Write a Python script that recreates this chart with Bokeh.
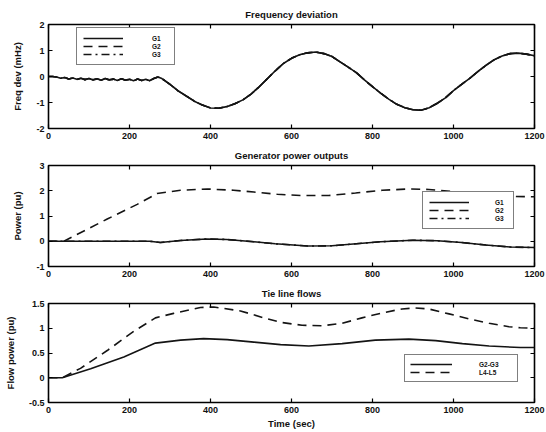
from bokeh.plotting import figure
from bokeh.layouts import column
from bokeh.models import (Range1d, LinearAxis, FixedTicker, Legend, LegendItem,
                          CustomJSTickFormatter)
from bokeh.embed import file_html
from bokeh.resources import INLINE

# ---------------- data ----------------
x_ticks = [0, 200, 400, 600, 800, 1000, 1200]
x_tick_labels = ["0", "200", "400", "600", "800", "1000", "1200"]

# Panel 1: frequency deviation (mHz) - G1, G2, G3 coincide
freq_t = [0, 10, 20, 30, 40, 50, 60, 70, 80, 90, 100, 110, 120, 130, 140, 150,
          160, 170, 180, 190, 200, 210, 220, 230, 240, 250, 260, 270, 280,
          300, 320, 340, 360, 380, 400, 420, 440, 460, 480, 500, 520, 540, 560,
          580, 600, 620, 640, 660, 680, 700, 720, 740, 760, 780, 800, 820, 840,
          860, 880, 900, 920, 940, 960, 980, 1000, 1020, 1040, 1060, 1080, 1100,
          1120, 1140, 1160, 1180, 1200]
freq_g1 = [0.0, 0.0, -0.02, -0.07, -0.04, -0.10, -0.06, -0.11, -0.07, -0.12, -0.08,
           -0.13, -0.09, -0.14, -0.08, -0.13, -0.10, -0.15, -0.09, -0.14, -0.11,
           -0.16, -0.10, -0.15, -0.11, -0.16, -0.08, -0.02, -0.08,
           -0.30, -0.55, -0.75, -0.95, -1.10, -1.21, -1.22, -1.16, -1.05, -0.90,
           -0.68, -0.40, -0.09, 0.22, 0.50, 0.70, 0.84, 0.91, 0.94, 0.88, 0.77,
           0.56, 0.36, 0.15, -0.13, -0.39, -0.64, -0.87, -1.07, -1.20, -1.28,
           -1.30, -1.20, -1.03, -0.82, -0.54, -0.30, -0.07, 0.19, 0.43, 0.64,
           0.79, 0.88, 0.90, 0.86, 0.80]
freq_g2 = list(freq_g1)
freq_g3 = list(freq_g1)
freq_y_ticks = [-2, -1, 0, 1, 2]
freq_y_labels = ["-2", "-1", "0", "1", "2"]

# Panel 2: generator power outputs (pu)
pow_g1_t = [0, 250, 276, 326, 390, 440, 500, 560, 640, 700, 760, 820, 900, 960,
            1020, 1080, 1140, 1200]
pow_g1 = [0.0, 0.0, -0.05, 0.03, 0.09, 0.07, -0.01, -0.10, -0.19, -0.18, -0.10,
          -0.02, 0.04, 0.02, -0.05, -0.15, -0.23, -0.25]
pow_g2_t = [0, 38, 100, 145, 219, 268, 326, 392, 457, 507, 565, 626, 692, 758,
            824, 890, 939, 1005, 1071, 1137, 1200]
pow_g2 = [0.0, 0.0, 0.51, 0.88, 1.46, 1.89, 2.02, 2.07, 2.02, 1.95, 1.86, 1.81,
          1.81, 1.91, 2.02, 2.07, 2.05, 1.96, 1.86, 1.78, 1.76]
pow_g3_t = list(pow_g1_t)
pow_g3 = list(pow_g1)
pow_y_ticks = [-1, 0, 1, 2, 3]
pow_y_labels = ["-1", "0", "1", "2", "3"]

# Panel 3: tie line flows (pu)
flow_a_t = [0, 34, 104, 186, 264, 326, 383, 441, 507, 573, 643, 725, 807, 890,
            956, 1022, 1088, 1165, 1200]
flow_a = [0.0, 0.0, 0.18, 0.42, 0.70, 0.76, 0.79, 0.77, 0.72, 0.67, 0.64, 0.69,
          0.76, 0.78, 0.75, 0.69, 0.64, 0.61, 0.61]
flow_b_t = [0, 34, 79, 145, 211, 264, 309, 375, 408, 474, 540, 573, 626, 675,
            725, 774, 824, 873, 906, 939, 989, 1038, 1088, 1137, 1165, 1200]
flow_b = [0.0, 0.0, 0.19, 0.55, 0.94, 1.21, 1.30, 1.42, 1.43, 1.35, 1.19, 1.12,
          1.06, 1.05, 1.10, 1.21, 1.31, 1.39, 1.41, 1.39, 1.29, 1.19, 1.10, 1.03,
          1.01, 1.00]
flow_y_ticks = [-0.5, 0, 0.5, 1, 1.5]
flow_y_labels = ["-0.5", "0", "0.5", "1", "1.5"]

# ---------------- styling ----------------
FONT = "Liberation Sans"
INK = "#141414"
LW = 1.6
DASH = "9 6"
DASHDOT = "8 4 2 4"


def make_panel(height, top, bottom, yr, yticks, ylabels, title, ylabel, xlabel):
    p = figure(width=546, height=height, output_backend="svg", toolbar_location=None,
               x_range=Range1d(0, 1200), y_range=Range1d(*yr),
               min_border_left=48, min_border_right=12,
               min_border_top=top, min_border_bottom=bottom)
    p.background_fill_color = "white"
    p.border_fill_color = "white"
    p.grid.visible = False
    p.outline_line_color = "black"
    p.outline_line_width = 1.6
    p.title.text = title
    p.title.align = "center"
    p.title.text_font = FONT
    p.title.text_font_size = "9.5px"
    p.title.text_font_style = "bold"
    p.title.text_color = "#111111"
    p.title.standoff = 9
    p.title.offset = 0

    for ax in (p.xaxis[0], p.yaxis[0]):
        ax.major_tick_in = 4
        ax.major_tick_out = 0
        ax.minor_tick_in = 0
        ax.minor_tick_out = 0
        ax.axis_line_color = None
        ax.major_tick_line_color = "black"
        ax.major_tick_line_width = 1.2
        ax.major_label_text_font = FONT
        ax.major_label_text_font_size = "9px"
        ax.major_label_text_font_style = "bold"
        ax.major_label_text_color = "#111111"
        ax.axis_label_text_font = FONT
        ax.axis_label_text_font_size = "9.5px"
        ax.axis_label_text_font_style = "bold"
        ax.axis_label_text_color = "#111111"

    p.xaxis[0].ticker = FixedTicker(ticks=x_ticks)
    p.xaxis[0].major_label_overrides = dict(zip(x_ticks, x_tick_labels))
    p.xaxis[0].major_label_standoff = 4
    p.yaxis[0].ticker = FixedTicker(ticks=yticks)
    p.yaxis[0].major_label_overrides = dict(zip(yticks, ylabels))
    p.yaxis[0].major_label_standoff = 4
    p.yaxis[0].axis_label = ylabel
    p.yaxis[0].axis_label_standoff = 10
    if xlabel:
        p.xaxis[0].axis_label = xlabel
        p.xaxis[0].axis_label_standoff = 2

    top_ax = LinearAxis(ticker=FixedTicker(ticks=x_ticks))
    right_ax = LinearAxis(ticker=FixedTicker(ticks=yticks))
    for ax in (top_ax, right_ax):
        ax.major_tick_in = 4
        ax.major_tick_out = 0
        ax.minor_tick_in = 0
        ax.minor_tick_out = 0
        ax.axis_line_color = None
        ax.major_tick_line_color = "black"
        ax.major_tick_line_width = 1.2
        ax.formatter = CustomJSTickFormatter(code="return ''")
        ax.major_label_standoff = 0
    p.add_layout(top_ax, "above")
    p.add_layout(right_ax, "right")
    return p


def style_legend(leg, x, y, glyph_w, standoff, label_w, pad):
    leg.location = (x, y)
    leg.border_line_color = "black"
    leg.border_line_width = 1.2
    leg.background_fill_color = "white"
    leg.background_fill_alpha = 1.0
    leg.label_text_font = FONT
    leg.label_text_font_size = "6.5px"
    leg.label_text_font_style = "bold"
    leg.label_text_color = "#111111"
    leg.glyph_width = glyph_w
    leg.glyph_height = 8
    leg.label_height = 8
    leg.label_width = label_w
    leg.label_standoff = standoff
    leg.padding = pad
    leg.spacing = 0
    leg.margin = 0


# ---------------- panel 1 ----------------
p1 = make_panel(143, 24, 15, (-2, 2), freq_y_ticks, freq_y_labels,
                "Frequency deviation", "Freq dev (mHz)", None)
r11 = p1.line(freq_t, freq_g1, line_color=INK, line_width=LW)
r12 = p1.line(freq_t, freq_g2, line_color=INK, line_width=LW, line_dash=DASH)
r13 = p1.line(freq_t, freq_g3, line_color=INK, line_width=LW, line_dash=DASHDOT)
leg1 = Legend(items=[LegendItem(label="G1", renderers=[r11]),
                     LegendItem(label="G2", renderers=[r12]),
                     LegendItem(label="G3", renderers=[r13])])
style_legend(leg1, 28, 63, 40, 29, 16, 6)
p1.add_layout(leg1)

# ---------------- panel 2 ----------------
p2 = make_panel(138, 20, 15, (-1, 3), pow_y_ticks, pow_y_labels,
                "Generator power outputs", "Power (pu)", None)
r21 = p2.line(pow_g1_t, pow_g1, line_color=INK, line_width=LW)
r22 = p2.line(pow_g2_t, pow_g2, line_color=INK, line_width=LW, line_dash=DASH)
r23 = p2.line(pow_g3_t, pow_g3, line_color=INK, line_width=LW, line_dash=DASHDOT)
leg2 = Legend(items=[LegendItem(label="G1", renderers=[r21]),
                     LegendItem(label="G2", renderers=[r22]),
                     LegendItem(label="G3", renderers=[r23])])
style_legend(leg2, 374, 37, 40, 26, 12, 6)
p2.add_layout(leg2)

# ---------------- panel 3 ----------------
p3 = make_panel(150, 19, 28, (-0.5, 1.5), flow_y_ticks, flow_y_labels,
                "Tie line flows", "Flow power (pu)", "Time (sec)")
r31 = p3.line(flow_a_t, flow_a, line_color=INK, line_width=LW)
r32 = p3.line(flow_b_t, flow_b, line_color=INK, line_width=LW, line_dash=DASH)
leg3 = Legend(items=[LegendItem(label="G2-G3", renderers=[r31]),
                     LegendItem(label="L4-L5", renderers=[r32])])
style_legend(leg3, 356, 20, 42, 27, 33, 5)
p3.add_layout(leg3)

layout = column(p1, p2, p3, spacing=0)

open("out.html", "w").write(file_html(layout, INLINE))
